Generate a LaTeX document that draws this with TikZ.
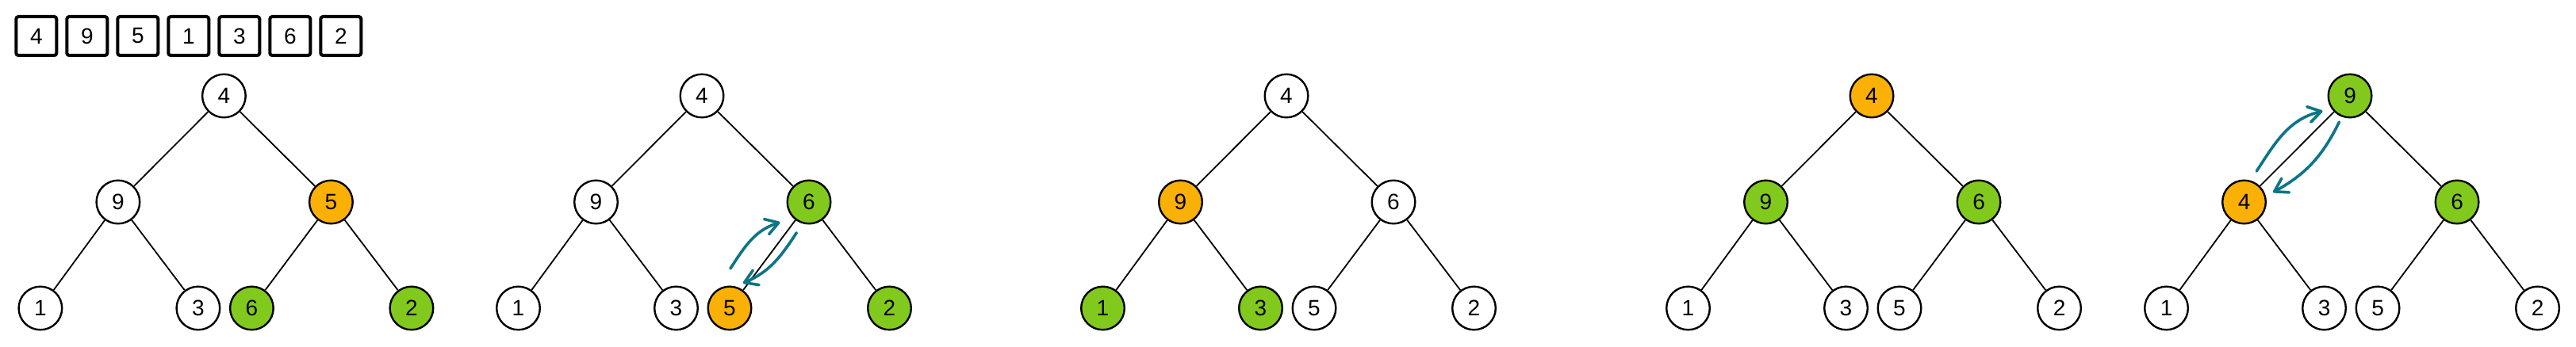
\documentclass[tikz,border=0pt]{standalone}
\usepackage{fontspec}
\setmainfont{Liberation Sans}
\usetikzlibrary{positioning, calc, arrows.meta}
\definecolor{heapgreen}{HTML}{82C91E}
\definecolor{heaporange}{HTML}{FAB005}
\definecolor{swapcol}{HTML}{0C7586}

\begin{document}
\begin{tikzpicture}[on grid,line width=0.9pt,
    heapnode/.style={circle,draw,fill=white,line width=1.2pt,minimum size=27.3pt,inner sep=0pt,font=\fontsize{14}{16}\selectfont},
    grn/.style={heapnode,fill=heapgreen},
    org/.style={heapnode,fill=heaporange},
    arrcell/.style={draw,line width=2pt,rounded corners=1.5pt,minimum width=25.5pt,minimum height=24.5pt,inner sep=0pt,font=\fontsize{14}{16}\selectfont},
    swaparrow/.style={draw=swapcol,line width=1.8pt,line cap=round,-{Straight Barb[length=8pt,width=10pt,round]}}]
                \useasboundingbox (0,0) rectangle (1624pt,219pt);
                \node[arrcell] (s4) at (22.9pt,196.25pt) {4};
                \node[arrcell] (s9) [right=32pt of s4] {9};
                \node[arrcell] (s5) [right=32pt of s9] {5};
                \node[arrcell] (s1) [right=32pt of s5] {1};
                \node[arrcell] (s3) [right=32pt of s1] {3};
                \node[arrcell] (s6) [right=32pt of s3] {6};
                \node[arrcell] (s2) [right=32pt of s6] {2};

                \node[heapnode] (a4) at (141.2pt,158.5pt) {4};
                \node[heapnode] (a9) [below left=67pt and 66.75pt of a4] {9};
                \node[org] (a5) [below right=67pt and 67.5pt of a4] {5};
                \node[heapnode] (a1) [below left=67pt and 49pt of a9] {1};
                \node[heapnode] (a3) [below right=67pt and 50.5pt of a9] {3};
                \node[grn] (a6) [below left=67pt and 50pt of a5] {6};
                \node[grn] (a2) [below right=67pt and 50.75pt of a5] {2};
                \path
                (a4) edge (a9)
                     edge (a5)
                (a9) edge (a1)
                     edge (a3)
                (a5) edge (a6)
                     edge (a2)
                ;

                \node[heapnode] (b4) at (442.5pt,158.5pt) {4};
                \node[heapnode] (b9) [below left=67pt and 66.75pt of b4] {9};
                \node[grn] (b6) [below right=67pt and 67.5pt of b4] {6};
                \node[heapnode] (b1) [below left=67pt and 49pt of b9] {1};
                \node[heapnode] (b3) [below right=67pt and 50.5pt of b9] {3};
                \node[org] (b5) [below left=67pt and 50pt of b6] {5};
                \node[grn] (b2) [below right=67pt and 50.75pt of b6] {2};
                \path
                (b4) edge (b9)
                     edge (b6)
                (b9) edge (b1)
                     edge (b3)
                (b6) edge (b5)
                     edge (b2)
                ;
                \draw[swaparrow] ($(b5)+(89:25pt)$) to[out=57,in=198] ($(b6)+(215:22.3pt)$);
                \draw[swaparrow] ($(b6)+(248:20.9pt)$) to[out=237,in=23] ($(b5)+(62:17.9pt)$);

                \node[heapnode] (c4) at (811pt,158.5pt) {4};
                \node[org] (c9) [below left=67pt and 66.75pt of c4] {9};
                \node[heapnode] (c6) [below right=67pt and 67.5pt of c4] {6};
                \node[grn] (c1) [below left=67pt and 49pt of c9] {1};
                \node[grn] (c3) [below right=67pt and 50.5pt of c9] {3};
                \node[heapnode] (c5) [below left=67pt and 50pt of c6] {5};
                \node[heapnode] (c2) [below right=67pt and 50.75pt of c6] {2};
                \path
                (c4) edge (c9)
                     edge (c6)
                (c9) edge (c1)
                     edge (c3)
                (c6) edge (c5)
                     edge (c2)
                ;

                \node[org] (d4) at (1180pt,158.5pt) {4};
                \node[grn] (d9) [below left=67pt and 66.75pt of d4] {9};
                \node[grn] (d6) [below right=67pt and 67.5pt of d4] {6};
                \node[heapnode] (d1) [below left=67pt and 49pt of d9] {1};
                \node[heapnode] (d3) [below right=67pt and 50.5pt of d9] {3};
                \node[heapnode] (d5) [below left=67pt and 50pt of d6] {5};
                \node[heapnode] (d2) [below right=67pt and 50.75pt of d6] {2};
                \path
                (d4) edge (d9)
                     edge (d6)
                (d9) edge (d1)
                     edge (d3)
                (d6) edge (d5)
                     edge (d2)
                ;

                \node[grn] (e9) at (1481.5pt,158.5pt) {9};
                \node[org] (e4) [below left=67pt and 66.75pt of e9] {4};
                \node[grn] (e6) [below right=67pt and 67.5pt of e9] {6};
                \node[heapnode] (e1) [below left=67pt and 49pt of e4] {1};
                \node[heapnode] (e3) [below right=67pt and 50.5pt of e4] {3};
                \node[heapnode] (e5) [below left=67pt and 50pt of e6] {5};
                \node[heapnode] (e2) [below right=67pt and 50.75pt of e6] {2};
                \path
                (e9) edge (e4)
                     edge (e6)
                (e4) edge (e1)
                     edge (e3)
                (e6) edge (e5)
                     edge (e2)
                ;
                \draw[swaparrow] ($(e4)+(68:21pt)$) to[out=57,in=194] ($(e9)+(209:19.75pt)$);
                \draw[swaparrow] ($(e9)+(247.6:17.85pt)$) to[out=244,in=29] ($(e4)+(18.6:19.25pt)$);
            \end{tikzpicture}
\end{document}
